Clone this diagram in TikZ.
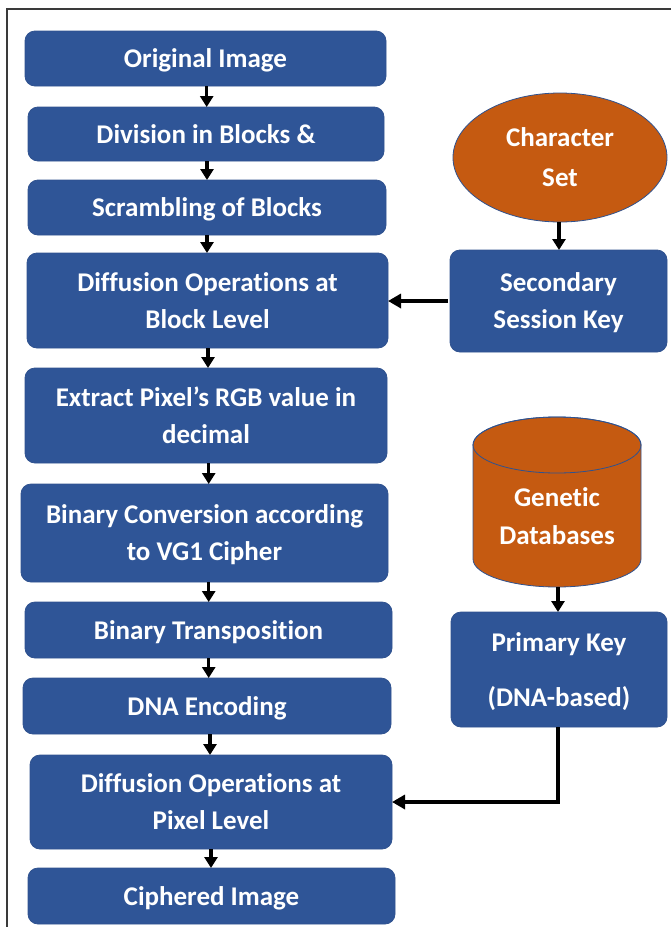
\documentclass[tikz,border=0pt]{standalone}
\usepackage{fontspec}
\setmainfont[Ligatures={NoCommon}]{Carlito}
\usetikzlibrary{arrows.meta,shapes.geometric,calc}
\definecolor{boxblue}{HTML}{2F5597}
\definecolor{edgeblue}{HTML}{2F528F}
\definecolor{dborange}{HTML}{C55A11}
\definecolor{framegray}{HTML}{3A3A3A}
\begin{document}
\begin{tikzpicture}[x=1pt,y=-1pt,
  every node/.style={inner sep=0pt,outer sep=0pt},
  lbl/.style={text=white,font=\fontsize{27}{37}\selectfont\bfseries,align=center,text depth=0pt},
  bluebox/.style={lbl,rectangle,rounded corners=10pt,fill=boxblue,draw=edgeblue,line width=0.8pt},
  orangeshape/.style={lbl,fill=dborange,draw=edgeblue,line width=0.8pt},
  arr/.style={line width=3.5pt,-{Triangle[width=13pt,length=11pt]}},
  thickarr/.style={line width=4.5pt,-{Triangle[width=14pt,length=13pt]}}]
\useasboundingbox (0,0) rectangle (671,927);
\draw[framegray,line width=1.5pt] (7,927) -- (7,9) -- (671,9);
% left column
\node[bluebox,minimum width=361,minimum height=55] (b1) at (205.5,58.5) {Original Image};
\node[bluebox,minimum width=356,minimum height=54] (b2) at (206,134) {Division in Blocks \&};
\node[bluebox,minimum width=358,minimum height=55] (b3) at (207,207.5) {Scrambling of Blocks};
\node[bluebox,minimum width=361,minimum height=95] (b4) at (207.5,300.5) {Diffusion Operations at\\Block Level};
\node[bluebox,minimum width=362,minimum height=95] (b5) at (206,415.5) {Extract Pixel’s RGB value in\\decimal};
\node[bluebox,minimum width=367,minimum height=98] (b6) at (204.5,533) {Binary Conversion according\\to VG1 Cipher};
\node[bluebox,minimum width=367,minimum height=56] (b7) at (208.5,630) {Binary Transposition};
\node[bluebox,minimum width=368,minimum height=56] (b8) at (207,706) {DNA Encoding};
\node[bluebox,minimum width=362,minimum height=94] (b9) at (211,802) {Diffusion Operations at\\Pixel Level};
\node[bluebox,minimum width=367,minimum height=56] (b10) at (211.5,896) {Ciphered Image};
% right column
\node[orangeshape,ellipse,minimum width=214,minimum height=129] (cs) at (560,157.5) {Character\\[3pt]Set};
\node[bluebox,minimum width=217,minimum height=102] (sk) at (558.5,301) {Secondary\\Session Key};
\path[fill=dborange,draw=edgeblue,line width=0.8pt]
  (473,445) -- (473,559) arc[start angle=180,end angle=0,x radius=84,y radius=28]
  -- (641,445) arc[start angle=360,end angle=180,x radius=84,y radius=28] -- cycle;
\draw[edgeblue,line width=0.8pt] (557,445) ellipse[x radius=84,y radius=28];
\node[lbl] (gd) at (557,516) {Genetic\\[1pt]Databases};
\coordinate (gdb) at (558,587);
\node[bluebox,minimum width=216,minimum height=115] (pk) at (559,669.5) {Primary Key\\[18pt](DNA-based)};
% connectors
\foreach \a/\b/\x in {b1/b2/206.7,b2/b3/207,b3/b4/207,b4/b5/208,b5/b6/208.7,b6/b7/208.7,b7/b8/208.7,b8/b9/210,b9/b10/211}{
  \draw[arr] (\a.south -| \x,0) -- (\b.north -| \x,0);
}
\draw[arr] (cs.south -| 559,0) -- (sk.north -| 559,0);
\draw[thickarr] ([xshift=-2pt]sk.west) -- (sk.west -| b4.east);
\draw[arr] (gdb) -- (gdb |- pk.north);
\draw[thickarr] (pk.south -| gdb) |- (b9.east);
\end{tikzpicture}
\end{document}
